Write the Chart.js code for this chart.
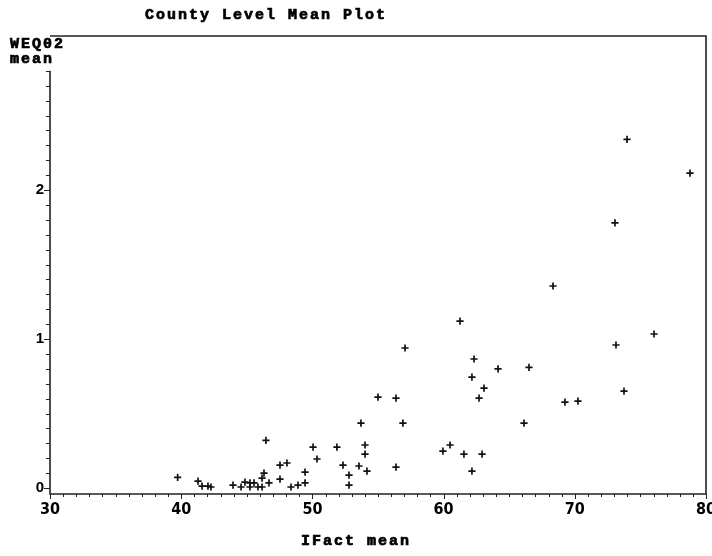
<!DOCTYPE html>
<html><head><meta charset="utf-8">
<script src="https://cdn.jsdelivr.net/npm/chart.js@4.4.1/dist/chart.umd.min.js"></script>
<style>html,body{margin:0;padding:0;background:#fff;} canvas{display:block;}</style>
</head><body>
<canvas id="c" width="712" height="556"></canvas>
<script>
// ---- data ----
const ifactMean = [
  39.73, 41.28, 41.59, 42.04, 42.27, 43.95, 44.56, 44.86, 45.24, 45.24,
  45.55, 45.85, 46.16, 46.16, 46.31, 46.46, 46.69, 47.53, 47.53, 48.06,
  48.37, 48.90, 49.44, 49.44, 50.05, 50.35, 51.87, 52.33, 52.79, 52.79,
  53.55, 53.70, 54.01, 54.01, 54.16, 55.00, 56.37, 56.37, 57.06, 56.90,
  59.95, 60.49, 61.55, 62.93, 62.16, 61.25, 62.32, 62.16, 63.08, 62.70,
  64.15, 66.51, 66.13, 69.25, 70.24, 73.14, 76.04, 73.75, 68.34, 73.06,
  73.98, 78.78
];
const weq02Mean = [
  0.072, 0.047, 0.013, 0.013, 0.007, 0.020, 0.007, 0.040, 0.007, 0.034,
  0.034, 0.007, 0.007, 0.067, 0.100, 0.320, 0.034, 0.154, 0.060, 0.168,
  0.007, 0.020, 0.034, 0.107, 0.275, 0.195, 0.275, 0.154, 0.087, 0.020,
  0.148, 0.436, 0.289, 0.228, 0.114, 0.610, 0.604, 0.141, 0.940, 0.436,
  0.248, 0.289, 0.228, 0.228, 0.114, 1.120, 0.866, 0.745, 0.671, 0.604,
  0.800, 0.810, 0.436, 0.577, 0.584, 0.960, 1.034, 0.651, 1.356, 1.780,
  2.340, 2.114
];
const xTickValues = [30, 40, 50, 60, 70, 80];
const yTickValues = [0, 1, 2];
const chartTitle = 'County Level Mean Plot';
const xAxisTitle = 'IFact mean';
const yAxisTitleLines = ['WEQ02', 'mean'];

const monoFont = 'bold 15px "Liberation Mono", "DejaVu Sans Mono", monospace';

const framePlugin = {
  id: 'frame',
  afterDraw(chart) {
    const { ctx, chartArea: a, scales: { x, y } } = chart;
    ctx.save();
    ctx.strokeStyle = '#222';
    ctx.lineWidth = 1.6;
    ctx.beginPath();
    ctx.moveTo(a.left, y.getPixelForValue(2.8));
    ctx.lineTo(a.left, a.bottom);
    ctx.lineTo(a.right, a.bottom);
    ctx.lineTo(a.right, a.top);
    ctx.lineTo(a.left, a.top);
    ctx.stroke();
    ctx.lineWidth = 1;
    ctx.beginPath();
    for (let i = 0; i <= 28; i++) {
      const py = Math.round(y.getPixelForValue(i / 10)) + 0.5;
      const len = i % 10 === 0 ? 6 : 4;
      ctx.moveTo(a.left - len, py); ctx.lineTo(a.left, py);
    }
    for (let v = 30; v <= 80; v++) {
      const px = Math.round(x.getPixelForValue(v)) + 0.5;
      const len = v % 10 === 0 ? 5 : 3;
      ctx.moveTo(px, a.bottom); ctx.lineTo(px, a.bottom + len);
    }
    ctx.stroke();
    // texts (heavy bitmap-like monospace)
    ctx.fillStyle = '#000';
    ctx.strokeStyle = '#000';
    ctx.lineWidth = 0.7;
    ctx.font = monoFont;
    try { ctx.letterSpacing = '2px'; } catch (e) {}
    ctx.textBaseline = 'middle';
    const put = (t, px, py) => { ctx.fillText(t, px, py); ctx.strokeText(t, px, py); };
    ctx.textAlign = 'center';
    put(chartTitle, 266, 15);
    put(xAxisTitle, 356, 541);
    ctx.textAlign = 'left';
    put(yAxisTitleLines[0], 10, 44);
    put(yAxisTitleLines[1], 10, 59);
    ctx.restore();
  }
};

new Chart(document.getElementById('c'), {
  type: 'scatter',
  data: {
    datasets: [{
      data: ifactMean.map((v, i) => ({ x: v, y: weq02Mean[i] })),
      pointStyle: 'cross',
      radius: 3.6,
      borderWidth: 1.7,
      borderColor: '#111',
      backgroundColor: '#111'
    }]
  },
  options: {
    responsive: false,
    animation: false,
    devicePixelRatio: 1,
    layout: { padding: { top: 36, right: 6, left: 0, bottom: 0 } },
    plugins: { legend: { display: false }, tooltip: { enabled: false }, title: { display: false } },
    scales: {
      x: {
        type: 'linear', min: 30, max: 80,
        afterBuildTicks: s => { s.ticks = xTickValues.map(v => ({ value: v })); },
        afterFit: s => { s.height = 62; s.paddingLeft = 0; s.paddingRight = 0; },
        grid: { display: false, drawTicks: false },
        border: { display: false },
        ticks: {
          color: '#000', padding: 6, maxRotation: 0, autoSkip: false,
          font: { family: '"Liberation Sans Narrow", "DejaVu Sans Condensed", "Liberation Sans", sans-serif', size: 16, weight: 'bold' }
        }
      },
      y: {
        type: 'linear', min: -0.04, max: 3.034,
        afterBuildTicks: s => { s.ticks = yTickValues.map(v => ({ value: v })); },
        afterFit: s => { s.width = 50; s.paddingTop = 0; s.paddingBottom = 0; },
        grid: { display: false, drawTicks: false },
        border: { display: false },
        ticks: {
          color: '#000', padding: 6, autoSkip: false,
          font: { family: '"Liberation Sans", Arial, sans-serif', size: 15, weight: 'bold' }
        }
      }
    }
  },
  plugins: [framePlugin]
});
</script>
</body></html>
